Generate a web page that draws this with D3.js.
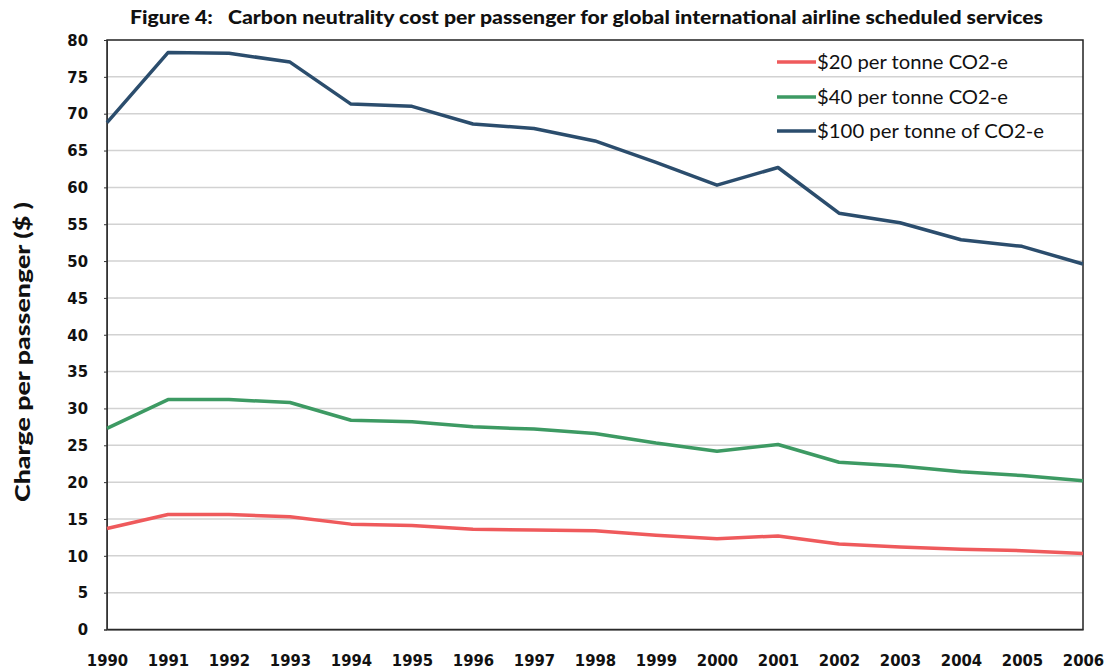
<!DOCTYPE html>
<html><head><meta charset="utf-8">
<script src="https://cdn.jsdelivr.net/npm/d3@7"></script>
<style>body{margin:0;background:#fff}</style>
</head><body>
<svg id="chart" width="1109" height="670"></svg>
<script>
const years = [1990,1991,1992,1993,1994,1995,1996,1997,1998,1999,2000,2001,2002,2003,2004,2005,2006];
const s20  = [13.7,15.6,15.6,15.3,14.3,14.1,13.6,13.5,13.4,12.8,12.3,12.7,11.6,11.2,10.9,10.7,10.3];
const s40  = [27.3,31.2,31.2,30.8,28.4,28.2,27.5,27.2,26.6,25.3,24.2,25.1,22.7,22.2,21.4,20.9,20.2];
const s100 = [68.8,78.3,78.2,77.0,71.3,71.0,68.6,68.0,66.3,63.4,60.3,62.7,56.5,55.2,52.9,52.0,49.6];
const seriesNames = ["$20 per tonne CO2-e","$40 per tonne CO2-e","$100 per tonne of CO2-e"];
const seriesColors = ["#ef5a5c","#3d9a63","#2b4d6d"];
const yTicks = d3.range(0,81,5);
const title = "Figure 4:   Carbon neutrality cost per passenger for global international airline scheduled services";
const yLabel = "Charge per passenger ($ )";

const svg = d3.select("#chart");
const m = {l:107, r:1083, t:40, b:629.5};
const x = d3.scaleLinear().domain([1990,2006]).range([m.l,m.r]);
const y = d3.scaleLinear().domain([0,80]).range([m.b,m.t]);

// gridlines
svg.append("g").selectAll("line").data(yTicks.filter(d=>d>0&&d<80)).join("line")
  .attr("x1",m.l).attr("x2",m.r).attr("y1",d=>y(d)).attr("y2",d=>y(d))
  .attr("stroke","#d2d2d2").attr("stroke-width",1.5);

// frame
svg.append("rect").attr("x",m.l).attr("y",m.t).attr("width",m.r-m.l).attr("height",m.b-m.t)
  .attr("fill","none").attr("stroke","#222").attr("stroke-width",1.5);

const tickFont = sel => sel.attr("font-family","DejaVu Sans Condensed, DejaVu Sans").attr("font-weight","bold")
  .attr("font-size","16.5px").attr("fill","#111");

// y axis
const ya = svg.append("g").attr("transform",`translate(${m.l},0)`)
  .call(d3.axisLeft(y).tickValues(yTicks).tickSize(3).tickPadding(16));
ya.select(".domain").attr("stroke","#333");
ya.selectAll("line").attr("stroke","#333");
ya.selectAll("text").call(tickFont);

// x axis
const xa = svg.append("g").attr("transform",`translate(0,${m.b})`)
  .call(d3.axisBottom(x).tickValues(years).tickFormat(d3.format("d")).tickSize(0).tickPadding(25));
xa.select(".domain").attr("stroke","#333");
xa.selectAll("text").call(tickFont);

// lines
const line = d3.line().x((d,i)=>x(years[i])).y(d=>y(d));
[s20,s40,s100].forEach((s,k)=>{
  svg.append("path").datum(s).attr("d",line).attr("fill","none")
    .attr("stroke",seriesColors[k]).attr("stroke-width",3.5).attr("stroke-linejoin","round");
});

// legend
const ly = [62,97,131];
seriesNames.forEach((n,k)=>{
  svg.append("line").attr("x1",777).attr("x2",816).attr("y1",ly[k]).attr("y2",ly[k])
    .attr("stroke",seriesColors[k]).attr("stroke-width",3.5);
  svg.append("text").attr("x",817).attr("y",ly[k]+7).text(n)
    .attr("font-family","Lato").attr("font-size","20px").attr("fill","#111")
    .attr("textLength", k===2 ? 227 : 191).attr("lengthAdjust","spacingAndGlyphs");
});

// title
svg.append("text").attr("x",130).attr("y",24).text(title)
  .style("white-space","pre").attr("xml:space","preserve")
  .attr("font-family","Lato").attr("font-weight","900").attr("font-size","18.5px")
  .attr("textLength",913).attr("lengthAdjust","spacingAndGlyphs").attr("fill","#111");

// y label
svg.append("text").attr("transform","translate(30,352) rotate(-90)").attr("text-anchor","middle")
  .text(yLabel).attr("font-family","Lato").attr("font-weight","900").attr("font-size","20px")
  .attr("textLength",300).attr("lengthAdjust","spacingAndGlyphs").attr("fill","#111");
</script>
</body></html>
